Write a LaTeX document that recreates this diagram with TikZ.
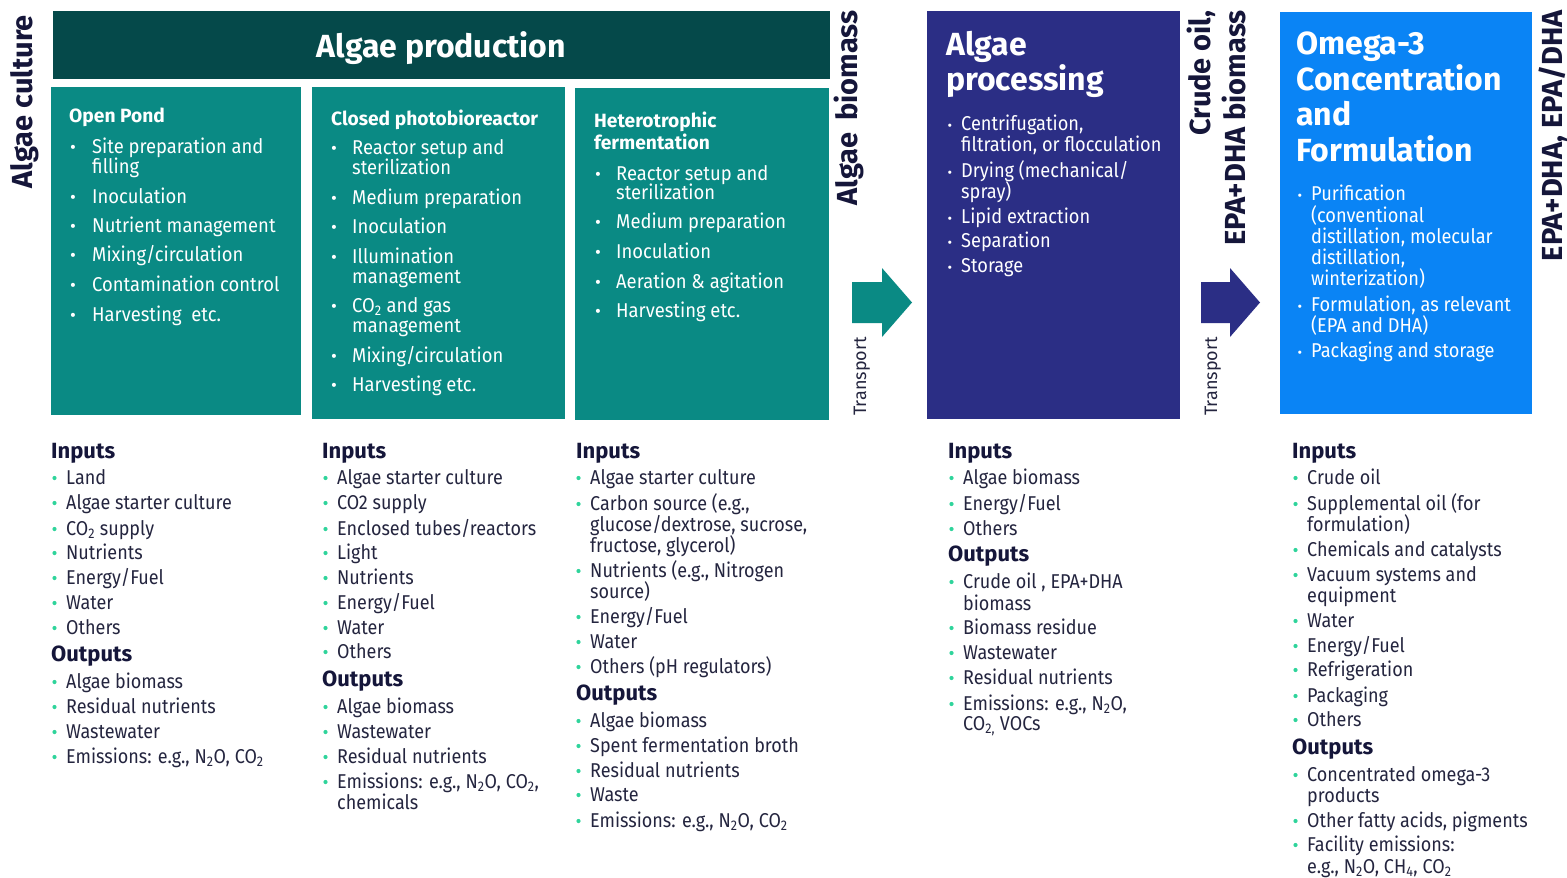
\documentclass[tikz,border=0pt]{standalone}
\usepackage{fontspec}
\setmainfont{Fira Sans}
\newfontfamily\cf{Fira Sans}[FakeStretch=0.9]
\newfontfamily\boxf{Fira Sans}[FakeStretch=0.92]
\newfontfamily\nf{Fira Sans}[FakeStretch=0.91]
\definecolor{darkbar}{HTML}{05494A}
\definecolor{tealbox}{HTML}{0A8A84}
\definecolor{navybox}{HTML}{2B2E85}
\definecolor{bluebox}{HTML}{0A84F5}
\definecolor{txt}{HTML}{24253F}
\definecolor{headc}{HTML}{15163A}
\definecolor{gbulc}{HTML}{2FD49B}
\newcounter{tn}
\newcommand\mysb[1]{\textsubscript{#1}}
\tikzset{
  box/.style={draw=none, inner sep=0, anchor=north west},
  btxt/.style={anchor=base west, inner sep=0, text=txt, font=\cf\fontsize{20}{24}\selectfont},
  bhead/.style={anchor=base west, inner sep=0, text=headc, font=\bfseries\fontsize{22}{26}\selectfont},
  wtxt/.style={anchor=base west, inner sep=0, text=white, font=\boxf\fontsize{20}{24}\selectfont},
  ntxt/.style={anchor=base west, inner sep=0, text=white, font=\nf\fontsize{20}{24}\selectfont},
  wbul/.style={anchor=base, inner sep=0, text=white, font=\fontsize{18}{20}\selectfont},
  ttl/.style={anchor=base west, inner sep=0, text=white, font=\bfseries\fontsize{19.2}{22}\selectfont},
  bigttl/.style={anchor=base west, inner sep=0, text=white, font=\bfseries\fontsize{32}{36}\selectfont},
  vlab/.style={rotate=90, anchor=base east, inner sep=0, text=headc, font=\bfseries\fontsize{29}{32}\selectfont},
  tlab/.style={rotate=90, anchor=base west, inner sep=0, text=txt, font=\fontsize{18}{20}\selectfont},
  gbul/.style={fill=gbulc},
}
% green-bullet item, continuation line, heading
\newcommand\gbi[3]{\fill[gbul] (#1-11.5,#2-6) circle (2.1);\stepcounter{tn}\node[btxt] (g\arabic{tn}) at (#1,#2) {#3};}
\newcommand\gbl[3]{\stepcounter{tn}\node[btxt] (g\arabic{tn}) at (#1,#2) {#3};}
\newcommand\hdg[3]{\stepcounter{tn}\node[bhead] (g\arabic{tn}) at (#1,#2) {#3};}
% white bullet items in boxes: bullet x, text x, y, text
\newcommand\wbi[4]{\stepcounter{tn}\node[wbul] (b\arabic{tn}) at (#1,#3) {•};\node[wtxt] (w\arabic{tn}) at (#2,#3) {#4};}
\newcommand\wbl[3]{\stepcounter{tn}\node[wtxt] (w\arabic{tn}) at (#1,#2) {#3};}
\newcommand\nbi[4]{\stepcounter{tn}\node[wbul] (b\arabic{tn}) at (#1,#3) {\fontsize{14}{16}\selectfont•};\node[ntxt] (w\arabic{tn}) at (#2,#3) {#4};}
\newcommand\nbl[3]{\stepcounter{tn}\node[ntxt] (w\arabic{tn}) at (#1,#2) {#3};}
\begin{document}
\begin{tikzpicture}[x=1pt,y=-1pt]
\useasboundingbox (0,0) rectangle (1567,878);
\fill[white] (0,0) rectangle (1567,878);
% ---------- boxes ----------
\node[box, fill=darkbar, minimum width=777, minimum height=68] (bar) at (53,11) {};
\node[text=white, font=\bfseries\fontsize{32}{36}\selectfont, anchor=base, inner sep=0] (bart) at (441.5,57) {Algae production};
\node[box, fill=tealbox, minimum width=250, minimum height=328] (pond) at (51,87) {};
\node[box, fill=tealbox, minimum width=253, minimum height=332] (pbr) at (312,87) {};
\node[box, fill=tealbox, minimum width=254, minimum height=332] (het) at (575,88) {};
\node[box, fill=navybox, minimum width=253, minimum height=408] (proc) at (927,11) {};
\node[box, fill=bluebox, minimum width=252, minimum height=402] (omega) at (1280,12) {};
% ---------- arrows ----------
\fill[tealbox] (852,282) -- (882,282) -- (882,268) -- (912,302.5) -- (882,337) -- (882,323) -- (852,323) -- cycle;
\fill[navybox] (1201,282) -- (1230,282) -- (1230,268) -- (1260,302.5) -- (1230,337) -- (1230,323) -- (1201,323) -- cycle;
% ---------- vertical labels ----------
\node[vlab] (vac) at (32,15) {Algae culture};
\node[vlab] (vab) at (857,10) {Algae\ \,biomass};
\node[vlab] (vco) at (1210,10) {Crude oil,};
\node[vlab] (vep) at (1245,10) {EPA+DHA biomass};
\node[vlab] (vfin) at (1562,10) {EPA+DHA, EPA/DHA};
\node[tlab] (tr1) at (866,416) {Transport};
\node[tlab] (tr2) at (1217,416) {Transport};
% ---------- Open pond ----------
\node[ttl] (t1) at (69,122) {Open Pond};
\wbi{73}{92}{153}{Site preparation and}
\wbl{92}{173}{filling}
\wbi{73}{92}{203}{Inoculation}
\wbi{73}{92}{232}{Nutrient management}
\wbi{73}{92}{261}{Mixing/circulation}
\wbi{73}{92}{291}{Contamination control}
\wbi{73}{92}{321}{Harvesting\ \ etc.}
% ---------- Closed PBR ----------
\node[ttl] (t2) at (331,125) {Closed photobioreactor};
\wbi{334}{352}{154}{Reactor setup and}
\wbl{352}{174}{sterilization}
\wbi{334}{352}{204}{Medium preparation}
\wbi{334}{352}{233}{Inoculation}
\wbi{334}{352}{263}{Illumination}
\wbl{352}{283}{management}
\wbi{334}{352}{312}{CO\mysb{2} and gas}
\wbl{352}{332}{management}
\wbi{334}{352}{362}{Mixing/circulation}
\wbi{334}{352}{391}{Harvesting etc.}
% ---------- Heterotrophic ----------
\node[ttl] (t3a) at (594,127) {Heterotrophic};
\node[ttl] (t3b) at (594,149) {fermentation};
\wbi{598}{616}{180}{Reactor setup and}
\wbl{616}{199}{sterilization}
\wbi{598}{616}{228}{Medium preparation}
\wbi{598}{616}{258}{Inoculation}
\wbi{598}{616}{288}{Aeration \& agitation}
\wbi{598}{616}{317}{Harvesting etc.}
% ---------- Algae processing ----------
\node[bigttl] (t4a) at (946,55) {Algae};
\node[bigttl] (t4b) at (946,90) {processing};
\nbi{950}{961}{130}{Centrifugation,}
\nbl{961}{151}{filtration, or flocculation}
\nbi{950}{961}{177}{Drying (mechanical/}
\nbl{961}{198}{spray)}
\nbi{950}{961}{223}{Lipid extraction}
\nbi{950}{961}{247}{Separation}
\nbi{950}{961}{272}{Storage}
% ---------- Omega-3 ----------
\node[bigttl] (t5a) at (1296,54) {Omega-3};
\node[bigttl] (t5b) at (1296,90) {Concentration};
\node[bigttl] (t5c) at (1296,125) {and};
\node[bigttl] (t5d) at (1296,161) {Formulation};
\nbi{1300}{1311}{200}{Purification}
\nbl{1311}{222}{(conventional}
\nbl{1311}{243}{distillation, molecular}
\nbl{1311}{264}{distillation,}
\nbl{1311}{285}{winterization)}
\nbi{1300}{1311}{311}{Formulation, as relevant}
\nbl{1311}{332}{(EPA and DHA)}
\nbi{1300}{1311}{357}{Packaging and storage}
% ---------- column 1 ----------
\hdg{51}{458}{Inputs}
\gbi{66}{484}{Land}
\gbi{66}{509}{Algae starter culture}
\gbi{66}{535}{CO\mysb{2} supply}
\gbi{66}{559}{Nutrients}
\gbi{66}{584}{Energy/Fuel}
\gbi{66}{609}{Water}
\gbi{66}{634}{Others}
\hdg{51}{661}{Outputs}
\gbi{66}{688}{Algae biomass}
\gbi{66}{713}{Residual nutrients}
\gbi{66}{738}{Wastewater}
\gbi{66}{763}{Emissions: e.g., N\mysb{2}O, CO\mysb{2}}
% ---------- column 2 ----------
\hdg{322}{458}{Inputs}
\gbi{337}{484}{Algae starter culture}
\gbi{337}{509}{CO2 supply}
\gbi{337}{535}{Enclosed tubes/reactors}
\gbi{337}{559}{Light}
\gbi{337}{584}{Nutrients}
\gbi{337}{609}{Energy/Fuel}
\gbi{337}{634}{Water}
\gbi{337}{658}{Others}
\hdg{322}{686}{Outputs}
\gbi{337}{713}{Algae biomass}
\gbi{337}{738}{Wastewater}
\gbi{337}{763}{Residual nutrients}
\gbi{337}{788}{Emissions: e.g., N\mysb{2}O, CO\mysb{2},}
\gbl{337}{809}{chemicals}
% ---------- column 3 ----------
\hdg{576}{458}{Inputs}
\gbi{590}{484}{Algae starter culture}
\gbi{590}{510}{Carbon source (e.g.,}
\gbl{590}{531}{glucose/dextrose, sucrose,}
\gbl{590}{552}{fructose, glycerol)}
\gbi{590}{577}{Nutrients (e.g., Nitrogen}
\gbl{590}{598}{source)}
\gbi{590}{623}{Energy/Fuel}
\gbi{590}{648}{Water}
\gbi{590}{673}{Others (pH regulators)}
\hdg{576}{700}{Outputs}
\gbi{590}{727}{Algae biomass}
\gbi{590}{752}{Spent fermentation broth}
\gbi{590}{777}{Residual nutrients}
\gbi{590}{801}{Waste}
\gbi{590}{827}{Emissions: e.g., N\mysb{2}O, CO\mysb{2}}
% ---------- column 4 ----------
\hdg{948}{458}{Inputs}
\gbi{963}{484}{Algae biomass}
\gbi{963}{510}{Energy/Fuel}
\gbi{963}{535}{Others}
\hdg{948}{561}{Outputs}
\gbi{963}{588}{Crude oil , EPA+DHA}
\gbl{963}{610}{biomass}
\gbi{963}{634}{Biomass residue}
\gbi{963}{659}{Wastewater}
\gbi{963}{684}{Residual nutrients}
\gbi{963}{710}{Emissions: e.g., N\mysb{2}O,}
\gbl{963}{730}{CO\mysb{2,} VOCs}
% ---------- column 5 ----------
\hdg{1292}{458}{Inputs}
\gbi{1307}{484}{Crude oil}
\gbi{1307}{510}{Supplemental oil (for}
\gbl{1307}{531}{formulation)}
\gbi{1307}{556}{Chemicals and catalysts}
\gbi{1307}{581}{Vacuum systems and}
\gbl{1307}{602}{equipment}
\gbi{1307}{627}{Water}
\gbi{1307}{652}{Energy/Fuel}
\gbi{1307}{676}{Refrigeration}
\gbi{1307}{702}{Packaging}
\gbi{1307}{726}{Others}
\hdg{1292}{754}{Outputs}
\gbi{1307}{781}{Concentrated omega-3}
\gbl{1307}{802}{products}
\gbi{1307}{827}{Other fatty acids, pigments}
\gbi{1307}{851}{Facility emissions:}
\gbl{1307}{873}{e.g., N\mysb{2}O, CH\mysb{4}, CO\mysb{2}}
\end{tikzpicture}
\end{document}
